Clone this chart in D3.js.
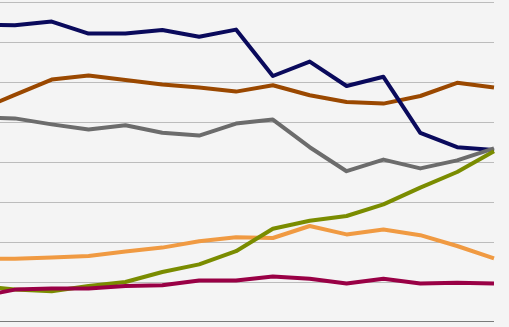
<!DOCTYPE html>
<html><head><meta charset="utf-8">
<script src="https://cdn.jsdelivr.net/npm/d3@7"></script>
<style>html,body{margin:0;padding:0;background:#f4f4f4;overflow:hidden}svg{display:block}</style>
</head><body>
<script>
const categories = ["2000","2001","2002","2003","2004","2005","2006","2007","2008","2009","2010","2011","2012","2013","2014"];
const yTicks = [0,10,20,30,40,50,60,70,80];
const navy    = [74.3,74.2,75.1,72.1,72.1,73.0,71.3,73.1,61.5,65.1,59.0,61.3,47.3,43.7,43.0];
const brown   = [52.9,56.8,60.6,61.6,60.5,59.4,58.6,57.6,59.2,56.7,55.0,54.6,56.5,59.8,58.6];
const gray    = [51.1,50.9,49.4,48.1,49.2,47.3,46.6,49.6,50.6,43.7,37.7,40.6,38.4,40.4,43.4];
const olive   = [9.1,8.1,7.7,9.0,10.0,12.5,14.4,17.7,23.3,25.3,26.5,29.4,33.6,37.5,42.7];
const orange  = [15.8,15.8,16.1,16.5,17.6,18.6,20.2,21.2,21.0,24.0,21.9,23.1,21.7,19.0,15.9];
const crimson = [6.3,8.1,8.4,8.4,9.0,9.2,10.4,10.4,11.4,10.8,9.6,10.8,9.6,9.8,9.6];

const seriesList = [
  {values: orange,  color: "#f09a42"},
  {values: brown,   color: "#9a4800"},
  {values: navy,    color: "#0a0a5c"},
  {values: gray,    color: "#6c6c6c"},
  {values: olive,   color: "#7a8c00"},
  {values: crimson, color: "#990045"}
];

const W = 509, H = 327;
const svg = d3.select("body").append("svg").attr("width", W).attr("height", H);
svg.append("rect").attr("width", W).attr("height", H).attr("fill", "#f4f4f4");

const x = d3.scalePoint().domain(categories).range([-22, 494]);
const y = d3.scaleLinear().domain([0, 80]).range([322, 2]);

// gridlines
svg.append("g").selectAll("line").data(yTicks.filter(d => d > 0)).join("line")
  .attr("x1", 0).attr("x2", 494)
  .attr("y1", d => Math.round(y(d)) + 0.5).attr("y2", d => Math.round(y(d)) + 0.5)
  .attr("stroke", "#bcbcbc").attr("stroke-width", 1);

// x axis baseline
const axis = svg.append("g").attr("transform", `translate(0,${Math.round(y(0)) - 0.5})`)
  .call(d3.axisBottom(x).tickSize(0).tickFormat(""));
axis.select(".domain").attr("stroke", "#7a7a7a").attr("d", "M0,0H494");

const line = d3.line().x((d, i) => x(categories[i])).y(d => y(d));
svg.append("g").selectAll("path").data(seriesList).join("path")
  .attr("d", s => line(s.values))
  .attr("fill", "none")
  .attr("stroke", s => s.color)
  .attr("stroke-width", 4)
  .attr("stroke-linejoin", "round")
  .attr("stroke-linecap", "butt");
</script>
</body></html>
